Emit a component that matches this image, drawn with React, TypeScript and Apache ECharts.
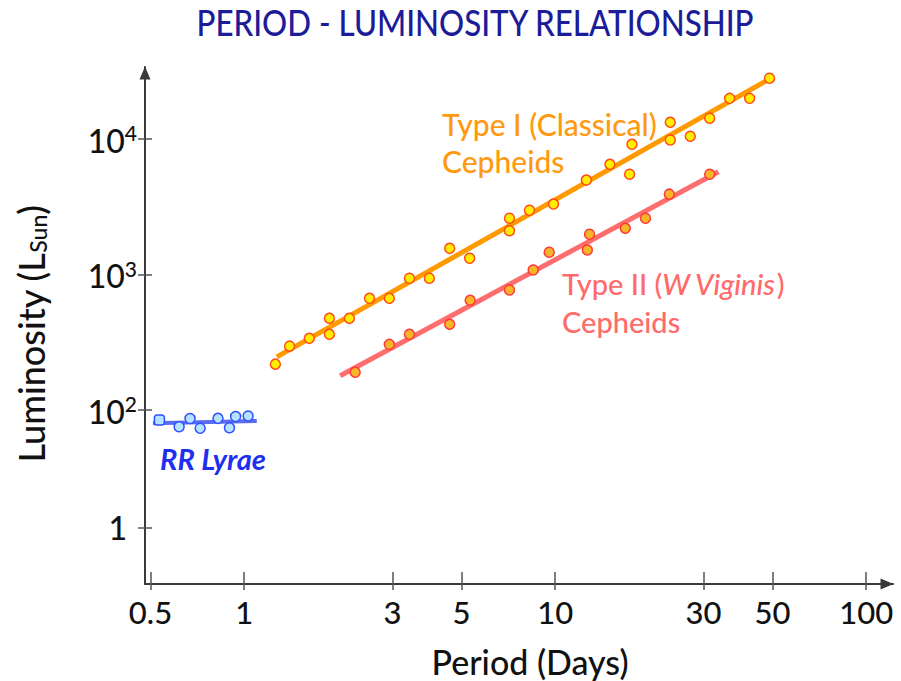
import React, { useEffect, useRef } from "react";
import * as echarts from "echarts";

// ---- axis ticks ----
const xTickValues = [0.5, 1, 3, 5, 10, 30, 50, 100];
const xTickLabels = ["0.5", "1", "3", "5", "10", "30", "50", "100"];
const yTickValues = [13.5, 100, 1000, 10000];
const yTickLabels = ["1", "10^2", "10^3", "10^4"];
const xRange = [0.48, 122];
const yRange = [5.2, 34000];

// ---- Type I (Classical) Cepheids ----
const typeIPeriod = [1.26, 1.4, 1.62, 1.88, 1.88, 2.18, 2.53, 2.93, 3.4, 3.94, 4.58, 5.31, 7.13, 7.13, 8.27, 9.88, 12.6, 15.0, 17.35, 17.66, 23.45, 23.45, 27.2, 31.4, 36.4, 42.2, 48.9];
const typeILum = [218, 296, 338, 475, 362, 475, 667, 667, 938, 938, 1560, 1318, 2600, 2104, 2979, 3311, 4977, 6502, 5490, 9140, 13280, 9830, 10480, 14220, 19950, 19950, 28080];
const typeIFitPeriod = [1.274, 50.4];
const typeIFitLum = [247, 28840];

// ---- Type II (W Virginis) Cepheids ----
const typeIIPeriod = [2.275, 2.93, 3.4, 4.58, 5.33, 7.13, 8.5, 9.57, 12.69, 12.9, 16.81, 19.52, 23.28, 31.4];
const typeIILum = [190, 305, 362, 429, 645, 768, 1079, 1459, 1517, 1982, 2192, 2600, 3917, 5490];
const typeIIFitPeriod = [2.036, 33.5];
const typeIIFitLum = [179, 5740];

// ---- RR Lyrae ----
const rrPeriod = [0.534, 0.618, 0.67, 0.722, 0.824, 0.897, 0.939, 1.03];
const rrLum = [84.4, 75.3, 86.6, 73.3, 86.8, 74.0, 89.5, 90.3];
const rrFitPeriod = [0.509, 1.098];
const rrFitLum = [79.8, 83.0];

const L = Math.log10;
const pts = (xs: number[], ys: number[]) => xs.map((x, i) => [L(x), L(ys[i])]);
const FONT = "Lato";
const W = 500;

function labelFor(values: number[], labels: string[], v: number) {
  let best = 0;
  for (let i = 0; i < values.length; i++) {
    if (Math.abs(L(values[i]) - v) < Math.abs(L(values[best]) - v)) best = i;
  }
  return labels[best];
}

export default function App() {
  const ref = useRef<HTMLDivElement>(null);
  useEffect(() => {
    if (!ref.current) return;
    const chart = echarts.init(ref.current, undefined, { renderer: "svg" });
    const axisColor = "#3a3a3a";
    const xCustom = xTickValues.map(L);
    const yCustom = yTickValues.map(L);
    const xBase = {
      type: "value",
      min: L(xRange[0]),
      max: L(xRange[1]),
      position: "bottom",
      splitLine: { show: false },
    };
    const yBase = {
      type: "value",
      min: L(yRange[0]),
      max: L(yRange[1]),
      position: "left",
      splitLine: { show: false },
    };
    chart.setOption({
      animation: false,
      backgroundColor: "#ffffff",
      grid: { left: 145, right: 8, top: 67, bottom: 97 },
      xAxis: [
        {
          ...xBase,
          axisLine: {
            show: true,
            onZero: false,
            lineStyle: { color: axisColor, width: 2 },
            symbol: ["none", "triangle"],
            symbolSize: [11, 13],
            symbolOffset: [0, -6],
          },
          axisTick: { show: true, inside: true, length: 12, customValues: xCustom, lineStyle: { color: "#555", width: 1.5 } },
          axisLabel: {
            show: true,
            customValues: xCustom,
            formatter: (v: number) => labelFor(xTickValues, xTickLabels, v),
            margin: 12,
            fontSize: 31,
            fontWeight: W,
            color: "#111",
            fontFamily: FONT,
          },
        },
        {
          ...xBase,
          axisLine: { show: false, onZero: false },
          axisTick: { show: true, inside: false, length: 6, customValues: xCustom, lineStyle: { color: "#555", width: 1.5 } },
          axisLabel: { show: false },
        },
      ],
      yAxis: [
        {
          ...yBase,
          axisLine: {
            show: true,
            onZero: false,
            lineStyle: { color: axisColor, width: 2 },
            symbol: ["none", "triangle"],
            symbolSize: [11, 13],
            symbolOffset: [0, -6],
          },
          axisTick: { show: true, inside: false, length: 7, customValues: yCustom, lineStyle: { color: "#555", width: 1.5 } },
          axisLabel: {
            show: true,
            customValues: yCustom,
            formatter: (v: number) => {
              const s = labelFor(yTickValues, yTickLabels, v);
              if (s.includes("^")) {
                const [b, e] = s.split("^");
                return `{b|${b}}{s|${e}}`;
              }
              return `{one|${s}}`;
            },
            margin: 8,
            rich: {
              b: { fontSize: 32, fontWeight: W, fontFamily: FONT, color: "#111", verticalAlign: "bottom", lineHeight: 34 },
              s: { fontSize: 21, fontWeight: W, fontFamily: FONT, color: "#111", verticalAlign: "top", lineHeight: 34 },
              one: { fontSize: 32, fontWeight: W, fontFamily: FONT, color: "#111", padding: [0, 10, 0, 0] },
            },
          },
        },
        {
          ...yBase,
          axisLine: { show: false, onZero: false },
          axisTick: { show: true, inside: true, length: 7, customValues: yCustom, lineStyle: { color: "#555", width: 1.5 } },
          axisLabel: { show: false },
        },
      ],
      series: [
        {
          type: "line",
          data: pts(typeIFitPeriod, typeIFitLum),
          showSymbol: false,
          lineStyle: { color: "#ff9a00", width: 5 },
          z: 2,
        },
        {
          type: "line",
          data: pts(typeIIFitPeriod, typeIIFitLum),
          showSymbol: false,
          lineStyle: { color: "#ff6e6e", width: 5 },
          z: 2,
        },
        {
          type: "line",
          data: pts(rrFitPeriod, rrFitLum),
          showSymbol: false,
          lineStyle: { color: "#5a6cf0", width: 4 },
          z: 2,
        },
        {
          type: "scatter",
          data: pts(typeIPeriod, typeILum),
          symbolSize: 10,
          itemStyle: { color: "#ffee00", borderColor: "#ff4a1a", borderWidth: 1.5, opacity: 1 },
          z: 3,
        },
        {
          type: "scatter",
          data: pts(typeIIPeriod, typeIILum),
          symbolSize: 10,
          itemStyle: { color: "#f7b52a", borderColor: "#ff3838", borderWidth: 1.5, opacity: 1 },
          z: 3,
        },
        {
          type: "scatter",
          data: pts(rrPeriod, rrLum).map((p, i) => (i === 0 ? { value: p, symbol: "roundRect" } : p)),
          symbolSize: 10,
          itemStyle: { color: "#b4e2ff", borderColor: "#3050ff", borderWidth: 1.5, opacity: 1 },
          z: 3,
        },
      ],
      graphic: [
        {
          type: "text",
          x: 475,
          y: 22,
          scaleX: 0.87,
          style: {
            text: "PERIOD - LUMINOSITY RELATIONSHIP",
            fontFamily: FONT,
            fontSize: 36,
            fontWeight: W,
            fill: "#1c1c98",
            align: "center",
            verticalAlign: "middle",
          },
        },
        {
          type: "text",
          x: 28,
          y: 334,
          rotation: Math.PI / 2,
          style: {
            text: "{m|Luminosity (L}{s|Sun}{m|)}",
            align: "center",
            verticalAlign: "middle",
            rich: {
              m: { fontFamily: FONT, fontWeight: W, fontSize: 36, fill: "#111", verticalAlign: "bottom", lineHeight: 42 },
              s: { fontFamily: FONT, fontWeight: W, fontSize: 23, fill: "#111", verticalAlign: "bottom", lineHeight: 36 },
            },
          },
        },
        {
          type: "text",
          x: 530,
          y: 661,
          style: {
            text: "Period (Days)",
            fontFamily: FONT,
            fontWeight: W,
            fontSize: 34,
            fill: "#111",
            align: "center",
            verticalAlign: "middle",
          },
        },
        {
          type: "text",
          x: 442,
          y: 142,
          style: {
            text: "Type I (Classical)\nCepheids",
            fontFamily: FONT,
            fontWeight: W,
            fontSize: 30,
            lineHeight: 37,
            fill: "#ff9a10",
            align: "left",
            verticalAlign: "middle",
          },
        },
        {
          type: "text",
          x: 562,
          y: 302,
          style: {
            text: "{n|Type II (}{i|W Viginis}{n|)}\n{n|Cepheids}",
            align: "left",
            verticalAlign: "middle",
            rich: {
              n: { fontFamily: FONT, fontWeight: W, fontSize: 29, lineHeight: 38, fill: "#ff6a6a" },
              i: { fontFamily: FONT, fontWeight: W, fontSize: 29, lineHeight: 38, fill: "#ff6a6a", fontStyle: "italic" },
            },
          },
        },
        {
          type: "text",
          x: 213,
          y: 458,
          style: {
            text: "RR Lyrae",
            fontFamily: FONT,
            fontSize: 29,
            fontStyle: "italic",
            fontWeight: "bold",
            fill: "#1f2ff0",
            align: "center",
            verticalAlign: "middle",
          },
        },
      ],
    });
    return () => chart.dispose();
  }, []);
  return <div ref={ref} style={{ position: "fixed", left: 0, top: 0, width: 901, height: 681 }} />;
}
